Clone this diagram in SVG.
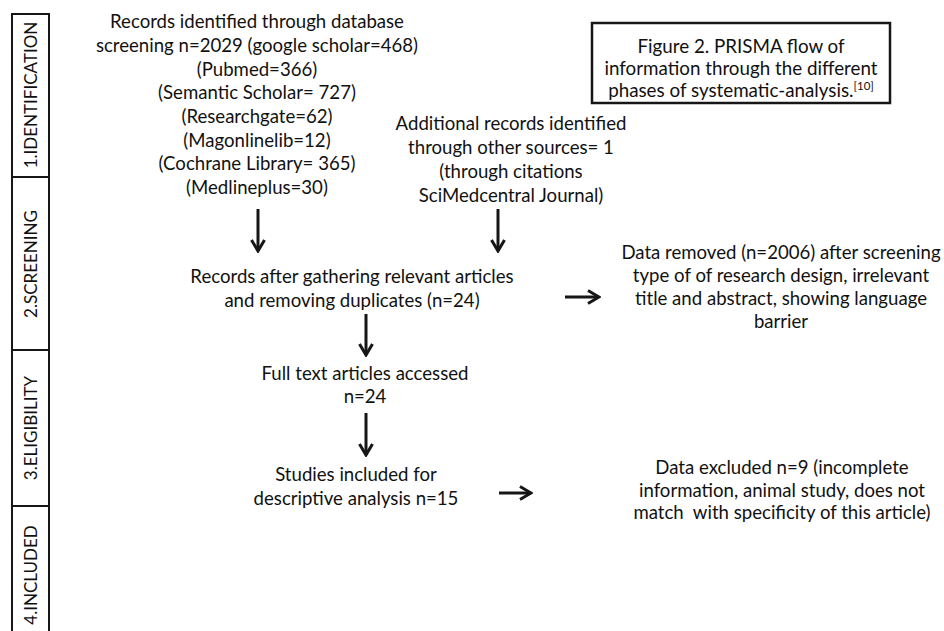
<svg xmlns="http://www.w3.org/2000/svg" width="944" height="631" viewBox="0 0 944 631">
<style>
text{font-family:Lato,"Liberation Sans",sans-serif;fill:#111;text-anchor:middle}
.t{font-size:18.6px}
.cap{font-size:18.8px}
.side{font-size:17px}
.frame{fill:none;stroke:#161616;stroke-width:2}
.conn{stroke:#161616;stroke-width:3;fill:none;marker-end:url(#ah)}
</style>
<defs>
<marker id="ah" viewBox="0 0 16 16" refX="14" refY="8" markerWidth="16" markerHeight="16" markerUnits="userSpaceOnUse" orient="auto">
<path d="M3,1.5 L14,8 L3,14.5" fill="none" stroke="#161616" stroke-width="3"/>
</marker>
</defs>
<rect width="944" height="631" fill="#fff"/>

<g id="phases">
<rect class="frame" x="12" y="14" width="37" height="660"/>
<line class="frame" x1="12" y1="177" x2="49" y2="177"/>
<line class="frame" x1="12" y1="350" x2="49" y2="350"/>
<line class="frame" x1="12" y1="506" x2="49" y2="506"/>
<text class="side" transform="translate(37,95) rotate(-90)">1.IDENTIFICATION</text>
<text class="side" transform="translate(37,264) rotate(-90)">2.SCREENING</text>
<text class="side" transform="translate(37,428) rotate(-90)">3.ELIGIBILITY</text>
<text class="side" transform="translate(37,575) rotate(-90)">4.INCLUDED</text>
</g>

<g id="caption">
<rect x="592" y="23" width="298" height="80" fill="none" stroke="#161616" stroke-width="2.5"/>
<text class="cap" x="741" y="53">Figure 2. PRISMA flow of</text>
<text class="cap" x="741" y="75">information through the different</text>
<text class="cap" x="741" y="97">phases of systematic-analysis.<tspan font-size="11.5" dy="-7">[10]</tspan></text>
</g>

<g id="records-database">
<text class="t" x="257" y="28">Records identified through database</text>
<text class="t" x="257" y="52">screening n=2029 (google scholar=468)</text>
<text class="t" x="257" y="76">(Pubmed=366)</text>
<text class="t" x="257" y="99">(Semantic Scholar= 727)</text>
<text class="t" x="257" y="123">(Researchgate=62)</text>
<text class="t" x="257" y="147">(Magonlinelib=12)</text>
<text class="t" x="257" y="170">(Cochrane Library= 365)</text>
<text class="t" x="257" y="194">(Medlineplus=30)</text>
</g>

<g id="records-other">
<text class="t" x="511" y="130">Additional records identified</text>
<text class="t" x="511" y="154">through other sources= 1</text>
<text class="t" x="511" y="178">(through citations</text>
<text class="t" x="511" y="202">SciMedcentral Journal)</text>
</g>

<g id="records-screened">
<text class="t" x="352" y="283">Records after gathering relevant articles</text>
<text class="t" x="352" y="307">and removing duplicates (n=24)</text>
</g>

<g id="data-removed">
<text class="t" x="781" y="259">Data removed (n=2006) after screening</text>
<text class="t" x="781" y="282">type of of research design, irrelevant</text>
<text class="t" x="781" y="305">title and abstract, showing language</text>
<text class="t" x="781" y="328">barrier</text>
</g>

<g id="full-text">
<text class="t" x="365" y="380">Full text articles accessed</text>
<text class="t" x="365" y="403">n=24</text>
</g>

<g id="included">
<text class="t" x="356" y="481">Studies included for</text>
<text class="t" x="356" y="505">descriptive analysis n=15</text>
</g>

<g id="data-excluded">
<text class="t" x="782" y="474">Data excluded n=9 (incomplete</text>
<text class="t" x="782" y="497">information, animal study, does not</text>
<text class="t" x="782" y="519" xml:space="preserve">match  with specificity of this article)</text>
</g>

<g id="connectors">
<line class="conn" x1="258" y1="209" x2="258" y2="251"/>
<line class="conn" x1="498" y1="209" x2="498" y2="251"/>
<line class="conn" x1="366" y1="314" x2="366" y2="355"/>
<line class="conn" x1="366" y1="413" x2="366" y2="455"/>
<line class="conn" x1="565" y1="297" x2="599" y2="297"/>
<line class="conn" x1="499" y1="493" x2="531" y2="493"/>
</g>
</svg>
